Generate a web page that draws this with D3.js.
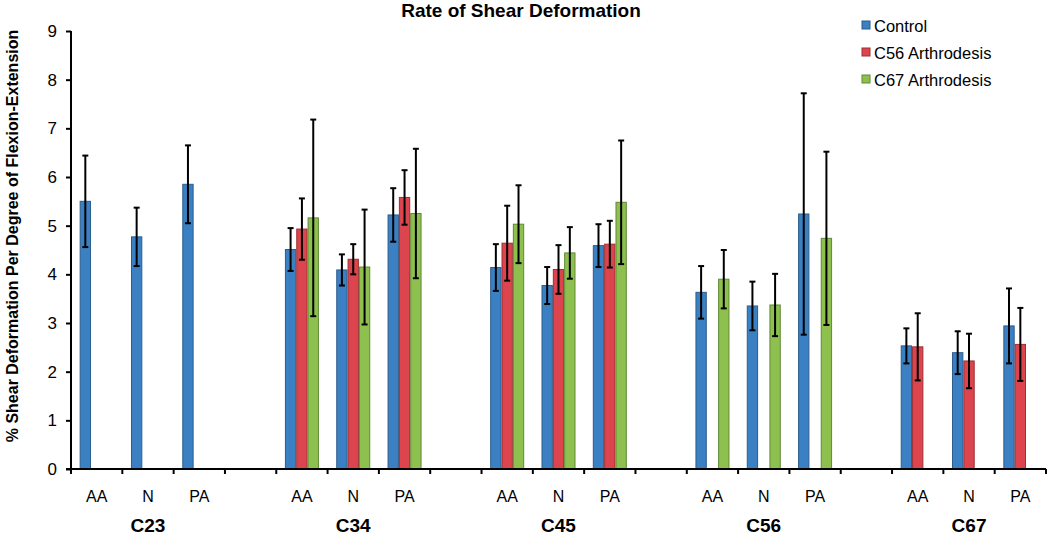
<!DOCTYPE html>
<html><head><meta charset="utf-8">
<script src="https://cdn.jsdelivr.net/npm/d3@7"></script>
<style>body{margin:0;background:#fff}svg{display:block;font-family:"Liberation Sans",Arial,sans-serif}</style>
</head><body><svg id="c" width="1050" height="539"></svg>
<script>
const groups = ["C23","C34","C45","C56","C67"];
const positions = ["AA","N","PA"];
const seriesNames = ["Control","C56 Arthrodesis","C67 Arthrodesis"];
const seriesColors = ["#3b80c3","#dc454d","#8ec050"];
const seriesStroke = ["#2b5d8c","#9c2f35","#5f8a34"];
// values per group (AA, N, PA); null = not measured
const control = [[5.50,4.77,5.85],[4.51,4.09,5.22],[4.14,3.77,4.59],[3.63,3.35,5.24],[2.53,2.39,2.94]];
const controlErr = [[0.94,0.60,0.80],[0.44,0.32,0.55],[0.48,0.38,0.44],[0.54,0.50,2.48],[0.36,0.44,0.77]];
const c56 = [[null,null,null],[4.93,4.31,5.58],[4.64,4.10,4.62],[null,null,null],[2.51,2.22,2.56]];
const c56Err = [[null,null,null],[0.63,0.31,0.56],[0.77,0.50,0.48],[null,null,null],[0.69,0.56,0.75]];
const c67 = [[null,null,null],[5.16,4.15,5.25],[5.03,4.44,5.48],[3.90,3.37,4.74],[null,null,null]];
const c67Err = [[null,null,null],[2.02,1.18,1.33],[0.80,0.53,1.27],[0.60,0.64,1.78],[null,null,null]];
const yTicks = [0,1,2,3,4,5,6,7,8,9];

(function(){
const values = [control,c56,c67];
const errs = [controlErr,c56Err,c67Err];

const slots = [];
groups.forEach((g,gi)=>{
  positions.forEach(p=>slots.push(g+"|"+p));
  if(gi<groups.length-1) slots.push(g+"|_gap");
});

const svg = d3.select("#c");
const L=71, R=1046, T=31, B=469;
const x = d3.scaleBand().domain(slots).range([L,R]).paddingInner(0).paddingOuter(0);
const y = d3.scaleLinear().domain([0,9]).range([B,T]);
const inner = d3.scaleBand().domain([0,1,2]).range([0,34]);
const offset = (x.bandwidth()-34)/2;

const data=[];
groups.forEach((g,gi)=>positions.forEach((p,pi)=>values.forEach((s,si)=>{
  const v=s[gi][pi]; if(v==null) return;
  data.push({slot:g+"|"+p,si,v,e:errs[si][gi][pi]});
})));

svg.append("g").selectAll("rect").data(data).join("rect")
  .attr("x",d=>x(d.slot)+offset+inner(d.si)+0.5)
  .attr("y",d=>y(d.v))
  .attr("width",inner.bandwidth()-1)
  .attr("height",d=>y(0)-y(d.v))
  .attr("fill",d=>seriesColors[d.si])
  .attr("stroke",d=>seriesStroke[d.si]).attr("stroke-width",1);

const eb = svg.append("g").attr("stroke","#000").attr("stroke-width",2);
data.forEach(d=>{
  const cx = x(d.slot)+offset+inner(d.si)+inner.bandwidth()/2;
  eb.append("line").attr("x1",cx).attr("x2",cx).attr("y1",y(d.v+d.e)).attr("y2",y(d.v-d.e));
  [d.v+d.e,d.v-d.e].forEach(v=>eb.append("line").attr("x1",cx-3).attr("x2",cx+3).attr("y1",y(v)).attr("y2",y(v)));
});

const ya = svg.append("g").attr("transform",`translate(${L},0)`)
  .call(d3.axisLeft(y).tickValues(yTicks).tickSize(5).tickPadding(9).tickFormat(d3.format("d")));
ya.select(".domain").attr("stroke","#000").attr("stroke-width",2).attr("d",`M0,${T}V${B}`);
ya.selectAll(".tick line").attr("stroke","#000").attr("stroke-width",2);
ya.selectAll("text").attr("font-size",17).attr("fill","#000").attr("font-family","Liberation Sans, Arial, sans-serif");

const boundaries = slots.map(s=>x(s)).concat([R]);
const xa = svg.append("g");
xa.append("line").attr("x1",L-5).attr("x2",R).attr("y1",B).attr("y2",B).attr("stroke","#000").attr("stroke-width",2);
xa.selectAll("line.t").data(boundaries).join("line").attr("class","t")
  .attr("x1",d=>d).attr("x2",d=>d).attr("y1",B).attr("y2",B+5).attr("stroke","#000").attr("stroke-width",2);
const catLabels = [];
groups.forEach(g=>positions.forEach(p=>catLabels.push({slot:g+"|"+p,p})));
xa.selectAll("text.c").data(catLabels).join("text").attr("class","c")
  .attr("x",d=>x(d.slot)+x.bandwidth()/2).attr("y",502).attr("text-anchor","middle")
  .attr("font-size",16).text(d=>d.p);
xa.selectAll("text.g").data(groups).join("text").attr("class","g")
  .attr("x",g=>x(g+"|N")+x.bandwidth()/2).attr("y",532).attr("text-anchor","middle")
  .attr("font-size",19).attr("font-weight","bold").text(g=>g);

svg.append("text").attr("x",521).attr("y",17).attr("text-anchor","middle")
  .attr("font-size",19).attr("font-weight","bold").text("Rate of Shear Deformation");

svg.append("text").attr("transform","translate(18,236) rotate(-90)").attr("text-anchor","middle")
  .attr("font-size",16).attr("font-weight","bold").text("% Shear Deformation Per Degree of Flexion-Extension");

const lg = svg.append("g").attr("transform","translate(862,0)");
seriesNames.forEach((n,i)=>{
  const yy = 32+i*27;
  lg.append("rect").attr("x",0).attr("y",yy-11).attr("width",8).attr("height",8)
    .attr("fill",seriesColors[i]).attr("stroke",seriesStroke[i]);
  lg.append("text").attr("x",12).attr("y",yy).attr("font-size",16.5).text(n);
});
})();
</script></body></html>
